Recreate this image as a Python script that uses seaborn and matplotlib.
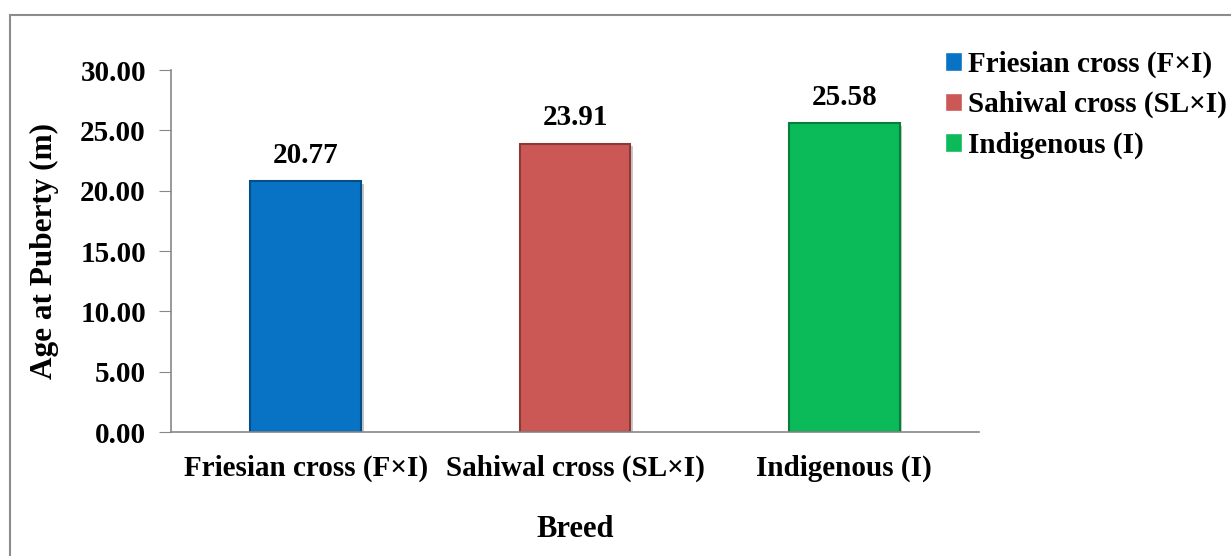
import pandas as pd
import seaborn as sns
import matplotlib.pyplot as plt
from matplotlib.patches import Rectangle
from matplotlib import patheffects as pe

breeds = ['Friesian cross (F×I)', 'Sahiwal cross (SL×I)', 'Indigenous (I)']
age_at_puberty = [20.77, 23.91, 25.58]
colors = ['#0873C4', '#CB5855', '#0BBA58']
edge_colors = ['#064E86', '#8A3A38', '#087E3C']
y_ticks = [0, 5, 10, 15, 20, 25, 30]

sns.set_style('white')
plt.rcParams['font.family'] = ['Liberation Serif', 'DejaVu Serif']
plt.rcParams['font.weight'] = 'bold'
plt.rcParams['text.color'] = 'black'
plt.rcParams['axes.labelcolor'] = 'black'
plt.rcParams['xtick.labelcolor'] = 'black'
plt.rcParams['ytick.labelcolor'] = 'black'

data = pd.DataFrame({'Breed': breeds, 'Age': age_at_puberty})

fig = plt.figure(figsize=(12.31, 5.56), dpi=100)
ax = fig.add_axes([0.1389, 0.223, 0.6564, 0.651])

sns.barplot(data=data, x='Breed', y='Age', hue='Breed', palette=colors,
            saturation=1, width=0.41, dodge=False, legend=True, ax=ax)

for bar, ec in zip(ax.patches, edge_colors):
    bar.set_edgecolor(ec)
    bar.set_linewidth(1.5)
    bar.set_path_effects([pe.SimplePatchShadow(offset=(2, -2), alpha=0.25), pe.Normal()])

for i, v in enumerate(age_at_puberty):
    ax.annotate(f'{v:.2f}', (i, v), xytext=(0, 9), textcoords='offset points',
                ha='center', va='bottom', fontsize=21, fontweight='bold', color='black')

ax.set_ylim(0, 30)
ax.set_xlim(-0.5, 2.5)
ax.set_yticks(y_ticks)
ax.set_yticklabels([f'{t:.2f}' for t in y_ticks], fontsize=21, fontweight='bold')
ax.set_xticks(range(len(breeds)))
ax.set_xticklabels(breeds, fontsize=21, fontweight='bold')
ax.set_xticks([-0.5, 0.5, 1.5, 2.5], minor=True)
ax.tick_params(axis='x', which='major', length=0, pad=16)
ax.tick_params(axis='x', which='minor', length=9, color='#888888', direction='out')
ax.tick_params(axis='y', length=9, color='#888888', direction='out', left=True, pad=9)

ax.set_ylabel('Age at Puberty (m)', fontsize=22.5, fontweight='bold', labelpad=15)
ax.set_xlabel('Breed', fontsize=22, fontweight='bold', labelpad=24)

for s in ['top', 'right']:
    ax.spines[s].set_visible(False)
for s in ['left', 'bottom']:
    ax.spines[s].set_color('#888888')
    ax.spines[s].set_linewidth(1.2)

leg = ax.legend(loc='upper left', bbox_to_anchor=(0.758, 1 - 39 / 556),
                bbox_transform=fig.transFigure, frameon=False,
                prop={'size': 21, 'weight': 'bold'}, handlelength=0.6,
                handleheight=0.6, handletextpad=0.2, labelspacing=0.45,
                borderaxespad=0)

fig.add_artist(Rectangle((10 / 1231, -0.1), 1.2, 1 - 15 / 556 + 0.1,
                         transform=fig.transFigure, fill=False,
                         edgecolor='#8c8c8c', linewidth=1.5))

fig.savefig('out.png', dpi=100)
plt.close()
